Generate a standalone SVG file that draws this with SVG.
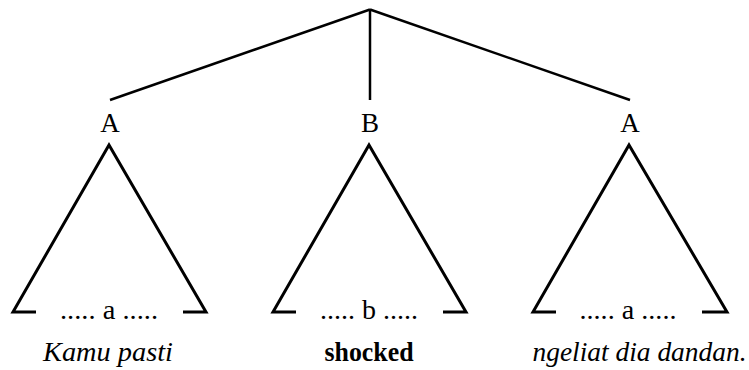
<svg xmlns="http://www.w3.org/2000/svg" width="749" height="370" viewBox="0 0 749 370">
<style>
.ln{stroke:#000;stroke-width:2.5;fill:none;stroke-linecap:butt}
.tri{stroke:#000;stroke-width:3;fill:none;stroke-linejoin:miter}
text{fill:#000;text-anchor:middle}
.lab{font-size:27px}
.dots{font-size:27px}
.it{font-size:27px;font-style:italic}
.bd{font-size:27px;font-weight:bold}
</style>
<rect width="749" height="370" fill="#fff"/>
<g id="connectors">
<line class="ln" x1="370" y1="9.5" x2="110" y2="100"/>
<line class="ln" x1="370" y1="9.5" x2="370" y2="100"/>
<line class="ln" x1="370" y1="9.5" x2="630" y2="100"/>
</g>
<g font-family="'Liberation Serif', serif">
<g id="nodeA1">
<text class="lab" x="110" y="132">A</text>
<polyline class="tri" points="36,312 13,312 109,145 206,312 183,312"/>
<text class="dots" x="109" y="319" textLength="98" lengthAdjust="spacingAndGlyphs">..... a .....</text>
<text class="it" x="108" y="361" textLength="130" lengthAdjust="spacingAndGlyphs">Kamu pasti</text>
</g>
<g id="nodeB">
<text class="lab" x="370" y="132">B</text>
<polyline class="tri" points="296,312 273,312 369,145 466,312 443,312"/>
<text class="dots" x="369" y="319" textLength="98" lengthAdjust="spacingAndGlyphs">..... b .....</text>
<text class="bd" x="369" y="361" textLength="89" lengthAdjust="spacingAndGlyphs">shocked</text>
</g>
<g id="nodeA2">
<text class="lab" x="630" y="132">A</text>
<polyline class="tri" points="556,312 533,312 629,145 727,312 702,312"/>
<text class="dots" x="628" y="319" textLength="97" lengthAdjust="spacingAndGlyphs">..... a .....</text>
<text class="it" x="639.5" y="361" textLength="214" lengthAdjust="spacingAndGlyphs">ngeliat dia dandan.</text>
</g>
</g>
</svg>
